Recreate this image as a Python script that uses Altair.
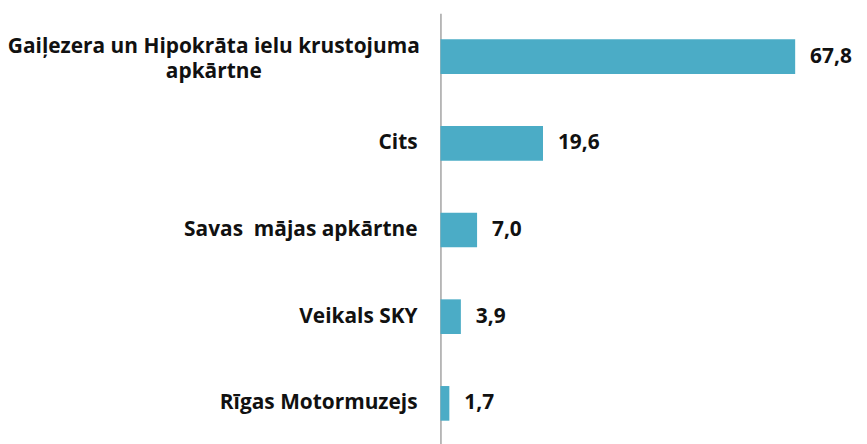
import altair as alt
import pandas as pd

categories = [
    "Gaiļezera un Hipokrāta ielu krustojuma\napkārtne",
    "Cits",
    "Savas \u00a0mājas apkārtne",
    "Veikals SKY",
    "Rīgas Motormuzejs",
]
values = [67.8, 19.6, 7.0, 3.9, 1.7]
multiline = [True, False, False, False, False]

df = pd.DataFrame({"cat": categories, "val": values, "multi": multiline})

FONT = "Open Sans"
COLOR = "#4BACC6"

y_enc = alt.Y(
    "cat:N",
    sort=categories,
    scale=alt.Scale(paddingInner=0.6, paddingOuter=0.3),
    axis=alt.Axis(labels=False, ticks=False, title=None, domain=True,
                  domainColor="#8c8c8c", domainWidth=1.2),
)
x_enc = alt.X("val:Q", scale=alt.Scale(domain=[0, 80]), axis=None)

base = alt.Chart(df)

bars = base.mark_bar(color=COLOR).encode(x=x_enc, y=y_enc)

vals = base.transform_calculate(
    lab="replace(format(datum.val, '.1f'), '.', ',')"
).mark_text(align="left", baseline="middle", dx=15, font=FONT,
            fontWeight="bold", fontSize=21, color="#111111").encode(
    x=x_enc, y=y_enc, text="lab:N")

labels_single = base.transform_filter("!datum.multi").mark_text(
    align="right", baseline="middle", dx=-23, font=FONT, fontWeight="bold",
    fontSize=21, color="#111111").encode(
    x=alt.datum(0), y=y_enc, text="cat:N")

labels_multi = base.transform_filter("datum.multi").mark_text(
    align="center", baseline="middle", dx=-228, dy=-10, font=FONT,
    fontWeight="bold", fontSize=21, color="#111111", lineBreak="\n",
    lineHeight=26).encode(
    x=alt.datum(0), y=y_enc, text="cat:N")

chart = alt.layer(bars, vals, labels_single, labels_multi).properties(
    width=421, height=436,
    autosize=alt.AutoSizeParams(type="none"),
    padding={"left": 435, "top": 4, "right": 0, "bottom": 0},
).configure_view(stroke=None)

chart.save("out.html", embed_options={"renderer": "svg", "actions": False})
